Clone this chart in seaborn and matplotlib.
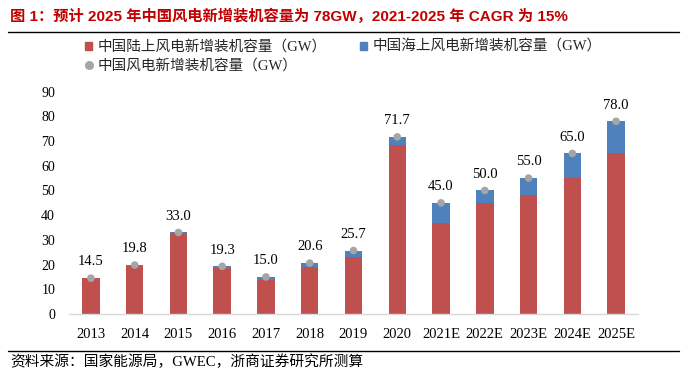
import matplotlib
matplotlib.use("Agg")
import matplotlib.pyplot as plt
import seaborn as sns
import pandas as pd
from matplotlib.lines import Line2D
from matplotlib.patches import Patch

years = ["2013", "2014", "2015", "2016", "2017", "2018", "2019", "2020",
         "2021E", "2022E", "2023E", "2024E", "2025E"]
onshore = [14.5, 19.6, 32.6, 18.7, 13.8, 18.9, 23.2, 68.6, 37.0, 45.0, 48.0, 55.0, 65.0]
offshore = [0.0, 0.2, 0.4, 0.6, 1.2, 1.7, 2.5, 3.1, 8.0, 5.0, 7.0, 10.0, 13.0]
totals = [14.5, 19.8, 33.0, 19.3, 15.0, 20.6, 25.7, 71.7, 45.0, 50.0, 55.0, 65.0, 78.0]

legend_labels = ["中国陆上风电新增装机容量（GW）", "中国海上风电新增装机容量（GW）", "中国风电新增装机容量（GW）"]
title = "图 1：预计 2025 年中国风电新增装机容量为 78GW，2021-2025 年 CAGR 为 15%"
source = "资料来源：国家能源局，GWEC，浙商证券研究所测算"

RED = "#C0504D"
BLUE = "#4F81BD"
GRAY = "#A5A5A5"

sns.set_theme(style="white")
plt.rcParams["font.family"] = ["Liberation Serif", "Noto Sans CJK SC", "DejaVu Sans"]

df = pd.DataFrame({"year": years, "onshore": onshore, "offshore": offshore, "total": totals})
df["stack"] = df["onshore"] + df["offshore"]

fig = plt.figure(figsize=(6.86, 3.80), dpi=100)
ax = fig.add_axes([0.1006, 0.1737, 0.8294, 0.585])

sns.barplot(data=df, x="year", y="stack", color=BLUE, width=0.4, saturation=1, ax=ax,
            order=years, edgecolor="none")
sns.barplot(data=df, x="year", y="onshore", color=RED, width=0.4, saturation=1, ax=ax,
            order=years, edgecolor="none")
sns.scatterplot(data=df, x="year", y="total", color=GRAY, s=30, edgecolor="none", ax=ax, zorder=5)

for i, v in enumerate(totals):
    ax.annotate(f"{v:.1f}", (i, v), xytext=(0, 7), textcoords="offset points",
                ha="center", va="bottom", fontsize=10.5, color="black")

ax.set_ylim(0, 90)
ax.set_xlim(-0.5, len(years) - 0.5)
ax.set_yticks(range(0, 91, 10))
ax.set_xlabel("")
ax.set_ylabel("")
ax.tick_params(axis="both", length=0, colors="black")
ax.tick_params(axis="x", labelsize=10.5, pad=10)
ax.tick_params(axis="y", labelsize=10, pad=10)
for s in ["top", "right", "left"]:
    ax.spines[s].set_visible(False)
ax.spines["bottom"].set_color("#D9D9D9")
ax.spines["bottom"].set_linewidth(1.0)

handles = [Patch(color=RED), Line2D([], [], marker="o", ls="none", color=GRAY, markersize=5.5),
           Patch(color=BLUE)]
labels = [legend_labels[0], legend_labels[2], legend_labels[1]]
fig.legend(handles, labels, ncol=2, loc="upper left", bbox_to_anchor=(0.124, 0.895),
           frameon=False, fontsize=10.5, handlelength=0.5, handleheight=0.5,
           handletextpad=0.35, columnspacing=2.3, labelspacing=0.33, borderaxespad=0,
           borderpad=0)

fig.text(0.015, 0.958, title, fontsize=11, fontweight="bold", color="#C00000",
         family=["Liberation Sans", "Noto Sans CJK SC"], ha="left", va="center")
fig.add_artist(Line2D([0.011, 0.99], [0.917, 0.917], color="black", lw=1.0))
fig.add_artist(Line2D([0.011, 0.99], [0.077, 0.077], color="black", lw=1.0))
fig.text(0.0146, 0.047, source, fontsize=10.6, color="black", ha="left", va="center",
         family=["Liberation Serif", "Noto Sans CJK SC"])

fig.savefig("out.png", dpi=100)
